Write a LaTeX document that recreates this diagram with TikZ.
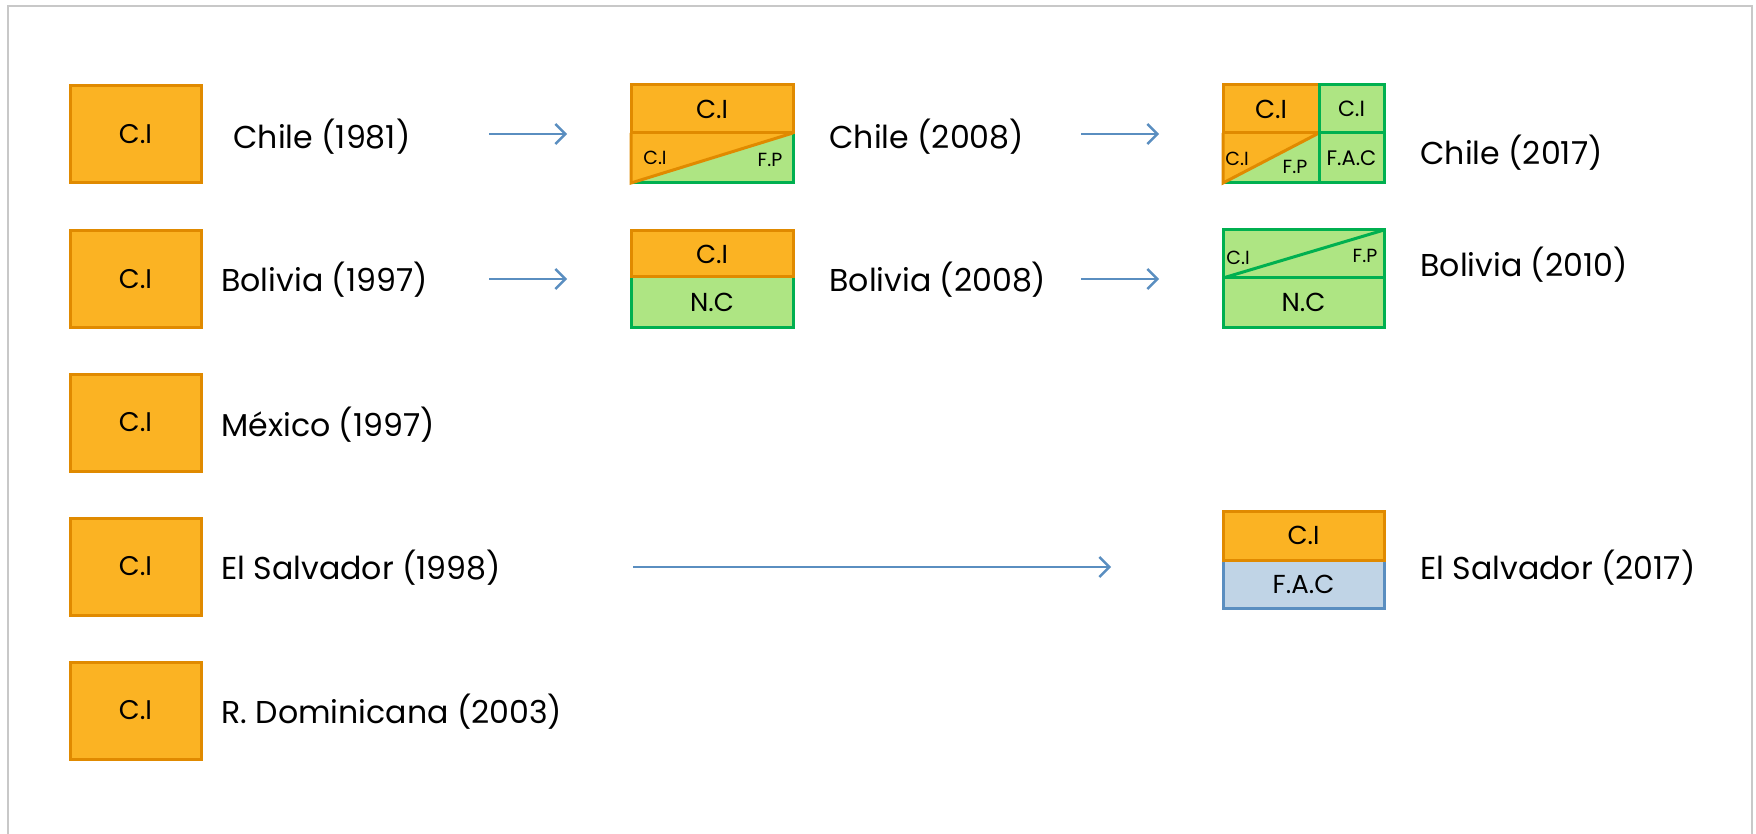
\documentclass[tikz,border=0pt]{standalone}
\usepackage{fontspec}
\setmainfont{Poppins}
\usetikzlibrary{arrows.meta}

\definecolor{naranja}{HTML}{FBB323}
\definecolor{naranjaborde}{HTML}{E08A00}
\definecolor{verde}{HTML}{AEE583}
\definecolor{verdeborde}{HTML}{00B050}
\definecolor{celeste}{HTML}{C0D4E6}
\definecolor{celesteborde}{HTML}{5A8EC0}
\definecolor{flechacolor}{HTML}{5A8EC0}
\definecolor{marco}{HTML}{C8C8C8}

\tikzset{
  celda/.style={line width=1.5pt, outer sep=0pt, inner sep=0pt},
  caja/.style={celda, draw=naranjaborde, fill=naranja, minimum width=65.5pt, minimum height=48.5pt, font=\fontsize{13.5}{15}\selectfont},
  mitadci/.style={celda, draw=naranjaborde, fill=naranja, font=\fontsize{13}{15}\selectfont},
  mitadnc/.style={celda, draw=verdeborde, fill=verde, font=\fontsize{13}{15}\selectfont},
  mitadfac/.style={celda, draw=celesteborde, fill=celeste, font=\fontsize{13}{15}\selectfont},
  chico/.style={inner sep=0pt, font=\fontsize{9.5}{11}\selectfont},
  pais/.style={anchor=west, inner sep=0pt, font=\fontsize{15.8}{19}\selectfont},
  flecha/.style={draw=flechacolor, line width=1.2pt, -{Straight Barb[length=5pt,width=10pt]}}
}

\begin{document}
\begin{tikzpicture}[x=0.5pt,y=-0.5pt]
\useasboundingbox (0,0) rectangle (1756,834);
\draw[marco, line width=1.2pt] (8,840) -- (8,6) -- (1752,6) -- (1752,840);

% primera columna
\node[caja] (ci1) at (135.5,134.5) {C.I};
\node[caja] (ci2) at (135.5,279) {C.I};
\node[caja] (ci3) at (135.5,422.5) {C.I};
\node[caja] (ci4) at (135.5,566.5) {C.I};
\node[caja] (ci5) at (135.5,710.5) {C.I};
\node[pais] (chile1) at (233,137) {Chile (1981)};
\node[pais] (bolivia1) at (221,280) {Bolivia (1997)};
\node[pais] (mexico) at (221,425) {México (1997)};
\node[pais] (salvador1) at (221,568) {El Salvador (1998)};
\node[pais] (dominicana) at (221,712) {R. Dominicana (2003)};

% Chile (2008)
\node[celda, minimum width=81pt, minimum height=25pt] (chile2b) at (712,158) {};
\fill[naranja] (chile2b.north west) -- (chile2b.north east) -- (chile2b.south west) -- cycle;
\fill[verde] (chile2b.north east) -- (chile2b.south east) -- (chile2b.south west) -- cycle;
\draw[verdeborde, line width=1.5pt] (chile2b.north east) -- (chile2b.south east) -- (chile2b.south west);
\draw[naranjaborde, line width=1.5pt] (chile2b.north east) -- (chile2b.south west) -- (chile2b.north west);
\node[mitadci, minimum width=81pt, minimum height=24pt] (chile2a) at (712,109) {C.I};
\node[chico] at (655,158) {C.I};
\node[chico] at (770,160) {F.P};
\node[pais] (chile2) at (829,137) {Chile (2008)};

% Bolivia (2008)
\node[mitadnc, minimum width=81pt, minimum height=25pt] (bolivia2b) at (712,302) {N.C};
\node[mitadci, minimum width=81pt, minimum height=23pt] (bolivia2a) at (712,254) {C.I};
\node[pais] (bolivia2) at (829,280) {Bolivia (2008)};

% Chile (2017)
\node[celda, minimum width=48pt, minimum height=25pt] (chile3b) at (1271,158) {};
\fill[naranja] (chile3b.north west) -- (chile3b.north east) -- (chile3b.south west) -- cycle;
\fill[verde] (chile3b.north east) -- (chile3b.south east) -- (chile3b.south west) -- cycle;
\draw[verdeborde, line width=1.5pt] (chile3b.north east) -- (chile3b.south east) -- (chile3b.south west);
\draw[naranjaborde, line width=1.5pt] (chile3b.north east) -- (chile3b.south west) -- (chile3b.north west);
\node[mitadci, minimum width=48pt, minimum height=24pt] (chile3a) at (1271,109) {C.I};
\node[mitadnc, minimum width=32.5pt, minimum height=25pt, font=\fontsize{10.5}{12}\selectfont] (chile3d) at (1351.5,158) {F.A.C};
\node[mitadnc, minimum width=32.5pt, minimum height=24pt, font=\fontsize{11}{12}\selectfont] (chile3c) at (1351.5,109) {C.I};
\node[chico] at (1237,159) {C.I};
\node[chico] at (1295,167) {F.P};
\node[pais] (chile3) at (1420,153) {Chile (2017)};

% Bolivia (2010)
\node[mitadnc, minimum width=80.5pt, minimum height=24pt] (bolivia3a) at (1303.5,254) {};
\draw[verdeborde, line width=1.5pt] (bolivia3a.south west) -- (bolivia3a.north east);
\node[mitadnc, minimum width=80.5pt, minimum height=24.5pt] (bolivia3b) at (1303.5,302.5) {N.C};
\node[chico] at (1238,258) {C.I};
\node[chico] at (1365,256) {F.P};
\node[pais] (bolivia3) at (1420,265) {Bolivia (2010)};

% El Salvador (2017)
\node[mitadfac, minimum width=80.5pt, minimum height=24pt] (salvador2b) at (1303.5,584) {F.A.C};
\node[mitadci, minimum width=80.5pt, minimum height=24.5pt] (salvador2a) at (1303.5,535.5) {C.I};
\node[pais] (salvador2) at (1420,568) {El Salvador (2017)};

% flechas
\coordinate (f1a) at (489,134); \coordinate (f1b) at (567,134);
\coordinate (f2a) at (1081,134); \coordinate (f2b) at (1159,134);
\coordinate (f3a) at (489,279); \coordinate (f3b) at (567,279);
\coordinate (f4a) at (1081,279); \coordinate (f4b) at (1159,279);
\coordinate (f5a) at (633,567); \coordinate (f5b) at (1111,567);
\draw[flecha] (f1a) -- (f1b);
\draw[flecha] (f2a) -- (f2b);
\draw[flecha] (f3a) -- (f3b);
\draw[flecha] (f4a) -- (f4b);
\draw[flecha] (f5a) -- (f5b);
\end{tikzpicture}
\end{document}
